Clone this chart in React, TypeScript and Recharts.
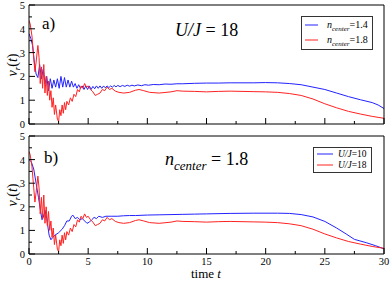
import { LineChart, Line, XAxis, YAxis } from "recharts";

// time grid + velocity readings, panel a) U/J = 18
const blueA: [number, number][] = [
  [0, 3.8], [0.15, 3.6], [0.3, 3.3], [0.45, 2.6], [0.6, 2.1], [0.75, 1.95], [0.9, 2.5], [1.05, 1.9],
  [1.2, 2.3], [1.35, 1.7], [1.5, 2.0], [1.65, 1.4], [1.8, 1.9], [1.95, 1.5], [2.1, 1.85], [2.25, 1.55],
  [2.4, 1.9], [2.55, 1.5], [2.7, 2.0], [2.85, 1.55], [3.0, 1.95], [3.15, 1.55], [3.3, 1.85], [3.45, 1.55],
  [3.6, 1.8], [3.75, 1.55], [3.9, 1.7], [4.05, 1.5], [4.2, 1.65], [4.35, 1.5], [4.5, 1.6], [4.65, 1.45],
  [4.8, 1.6], [4.95, 1.45], [5.1, 1.6], [5.25, 1.45], [5.4, 1.58], [5.55, 1.48], [5.7, 1.6], [5.85, 1.5],
  [6.0, 1.6], [6.15, 1.5], [6.3, 1.6], [6.45, 1.52], [6.6, 1.6], [6.75, 1.53], [6.9, 1.6], [7.05, 1.55],
  [7.2, 1.62], [7.35, 1.56], [7.5, 1.62], [7.7, 1.57], [7.9, 1.62], [8.1, 1.58], [8.3, 1.63], [8.5, 1.59],
  [8.7, 1.63], [8.9, 1.6], [9.2, 1.64], [9.5, 1.61], [9.8, 1.65], [10.1, 1.63], [10.5, 1.66], [11, 1.65],
  [11.5, 1.68], [12, 1.67], [12.5, 1.69], [13, 1.69], [14, 1.71], [15, 1.72], [16, 1.72], [17, 1.73],
  [18, 1.73], [19, 1.73], [20, 1.74], [21, 1.73], [22, 1.7], [23, 1.65], [24, 1.55], [25, 1.45],
  [26, 1.3], [27, 1.15], [28, 1.02], [29, 0.9], [29.5, 0.8], [30, 0.65],
];

// n_center = 1.8, U/J = 18 (same curve in both panels)
const red18: [number, number][] = [
  [0, 4.35], [0.1, 4.2], [0.25, 3.7], [0.4, 2.8], [0.5, 2.2], [0.6, 2.6], [0.75, 3.3], [0.85, 2.8],
  [0.95, 1.7], [1.05, 2.4], [1.15, 1.5], [1.25, 2.5], [1.35, 1.3], [1.45, 2.0], [1.55, 1.2], [1.65, 1.8],
  [1.75, 1.0], [1.85, 1.4], [1.95, 0.7], [2.05, 1.1], [2.15, 0.4], [2.25, 0.8], [2.4, 0.2], [2.5, 0.1],
  [2.6, 0.6], [2.7, 0.35], [2.8, 0.8], [2.9, 0.45], [3.0, 0.9], [3.1, 0.6], [3.2, 0.95], [3.35, 0.8],
  [3.5, 1.1], [3.65, 0.95], [3.8, 1.25], [3.95, 1.15], [4.1, 1.45], [4.25, 1.35], [4.4, 1.6], [4.55, 1.5],
  [4.7, 1.7], [4.85, 1.55], [5.0, 1.6], [5.2, 1.45], [5.4, 1.35], [5.6, 1.2], [5.8, 1.25], [6.0, 1.3],
  [6.2, 1.45], [6.4, 1.4], [6.6, 1.55], [6.8, 1.45], [7.0, 1.5], [7.3, 1.38], [7.6, 1.33], [8.0, 1.3],
  [8.5, 1.33], [9.0, 1.42], [9.3, 1.45], [9.7, 1.4], [10.2, 1.33], [11, 1.3], [12, 1.35], [12.5, 1.4],
  [13, 1.38], [14, 1.37], [15, 1.35], [16, 1.37], [17, 1.38], [18, 1.37], [19, 1.36], [20, 1.35],
  [21, 1.33], [22, 1.28], [23, 1.2], [24, 1.05], [25, 0.85], [26, 0.68], [27, 0.53], [28, 0.42],
  [29, 0.32], [30, 0.24],
];

// panel b) U/J = 10
const blueB: [number, number][] = [
  [0, 4.0], [0.2, 3.9], [0.4, 3.6], [0.6, 3.0], [0.8, 2.4], [1.0, 1.75], [1.1, 1.45], [1.2, 1.55],
  [1.35, 1.85], [1.5, 1.5], [1.7, 0.8], [1.85, 0.6], [2.0, 0.7], [2.2, 0.8], [2.5, 0.9], [2.8, 1.05],
  [3.0, 1.2], [3.2, 1.4], [3.4, 1.4], [3.6, 1.6], [3.7, 1.65], [3.9, 1.5], [4.1, 1.55], [4.3, 1.45],
  [4.5, 1.5], [4.7, 1.4], [4.9, 1.3], [5.1, 1.35], [5.3, 1.45], [5.5, 1.55], [5.7, 1.5], [5.9, 1.6],
  [6.2, 1.55], [6.5, 1.6], [7, 1.6], [7.5, 1.6], [8, 1.62], [8.5, 1.63], [9, 1.63], [10, 1.65],
  [11, 1.66], [12, 1.67], [13, 1.68], [14, 1.69], [15, 1.7], [17, 1.72], [19, 1.73], [21, 1.73],
  [22, 1.72], [23, 1.67], [24, 1.57], [25, 1.38], [26, 1.1], [26.8, 0.85], [27.5, 0.62], [28.5, 0.48],
  [29.3, 0.35], [30, 0.22],
];

const xTicks = [0, 2.5, 5, 7.5, 10, 12.5, 15, 17.5, 20, 22.5, 25, 27.5, 30];
const yTicks = [0, 0.5, 1, 1.5, 2, 2.5, 3, 3.5, 4, 4.5, 5];

const toRows = (pts: [number, number][]) => pts.map(([t, v]) => ({ t, v }));

const FONT = "'Liberation Serif', 'DejaVu Serif', serif";
const BLUE = "#2222ff";
const RED = "#ff2222";

// inward ticks, long for major values, short for minor; label only on major
function makeTick(side: "bottom" | "top" | "left" | "right", label: boolean, majorFn: (v: number) => boolean) {
  return (p: any) => {
    const v = p.payload.value;
    const major = majorFn(v);
    const len = major ? 6 : 3;
    const { x, y } = p;
    let l;
    if (side === "bottom") l = <line x1={x} x2={x} y1={y} y2={y - len} stroke="#000" />;
    else if (side === "top") l = <line x1={x} x2={x} y1={y} y2={y + len} stroke="#000" />;
    else if (side === "left") l = <line x1={x} x2={x + len} y1={y} y2={y} stroke="#000" />;
    else l = <line x1={x} x2={x - len} y1={y} y2={y} stroke="#000" />;
    let t = null;
    if (label && major) {
      if (side === "bottom")
        t = <text x={x} y={y + 11} textAnchor="middle" fontSize={10.5} fontFamily={FONT} fill="#000">{v}</text>;
      else if (side === "left")
        t = <text x={x - 4} y={y + 4} textAnchor="end" fontSize={10.5} fontFamily={FONT} fill="#000">{v}</text>;
    }
    return <g>{l}{t}</g>;
  };
}

const xMajorFn = (v: number) => v % 5 === 0;
const yMajorFn = (v: number) => Number.isInteger(v);

function frameAxes(showX: boolean) {
  const line = { stroke: "#000", strokeWidth: 1 };
  return [
    <XAxis key="xb" xAxisId="x" type="number" dataKey="t" domain={[0, 30]} ticks={xTicks} interval={0}
      height={1} tickSize={0} tickMargin={0} axisLine={line} tickLine={false}
      tick={makeTick("bottom", showX, xMajorFn)} allowDataOverflow />,
    <XAxis key="xt" xAxisId="xt" orientation="top" type="number" dataKey="t" domain={[0, 30]} ticks={xTicks}
      interval={0} height={1} tickSize={0} tickMargin={0} axisLine={line} tickLine={false}
      tick={makeTick("top", false, xMajorFn)} />,
    <YAxis key="yl" yAxisId="y" type="number" domain={[0, 5]} ticks={yTicks} interval={0} width={1}
      tickSize={0} tickMargin={0} axisLine={line} tickLine={false} tick={makeTick("left", true, yMajorFn)}
      allowDataOverflow />,
    <YAxis key="yr" yAxisId="yr" orientation="right" type="number" domain={[0, 5]} ticks={yTicks} interval={0}
      width={1} tickSize={0} tickMargin={0} axisLine={line} tickLine={false}
      tick={makeTick("right", false, yMajorFn)} />,
  ];
}

function Panel({ blue, red, showX, height, margin }: {
  blue: [number, number][]; red: [number, number][]; showX: boolean; height: number;
  margin: { top: number; right: number; bottom: number; left: number };
}) {
  return (
    <LineChart width={390} height={height} margin={margin}>
      {frameAxes(showX)}
      <Line xAxisId="x" yAxisId="y" data={toRows(blue)} dataKey="v" type="linear" stroke={BLUE}
        strokeWidth={1} dot={false} isAnimationActive={false} />
      <Line xAxisId="x" yAxisId="y" data={toRows(red)} dataKey="v" type="linear" stroke={RED}
        strokeWidth={1} dot={false} isAnimationActive={false} />
    </LineChart>
  );
}

export default function App() {
  return (
    <div style={{ position: "absolute", left: 0, top: 0, width: 390, height: 281, background: "#fff", fontFamily: FONT }}>
      <div style={{ position: "absolute", left: 0, top: 0 }}>
        <Panel blue={blueA} red={red18} showX={false} height={130}
          margin={{ top: 4, right: 5, bottom: 5, left: 28 }} />
      </div>
      <div style={{ position: "absolute", left: 0, top: 130 }}>
        <Panel blue={blueB} red={red18} showX={true} height={151}
          margin={{ top: 5, right: 5, bottom: 26, left: 28 }} />
      </div>
      <svg width={390} height={281} style={{ position: "absolute", left: 0, top: 0, pointerEvents: "none" }}
        fontFamily={FONT}>
        {/* y labels */}
        <text transform="translate(17,65) rotate(-90)" textAnchor="middle" fontSize={14}>
          <tspan fontStyle="italic">v</tspan><tspan fontStyle="italic" fontSize={9} dy={3}>r</tspan>
          <tspan dy={-3}>(</tspan><tspan fontStyle="italic">t</tspan><tspan>)</tspan>
        </text>
        <text transform="translate(17,195) rotate(-90)" textAnchor="middle" fontSize={14}>
          <tspan fontStyle="italic">v</tspan><tspan fontStyle="italic" fontSize={9} dy={3}>r</tspan>
          <tspan dy={-3}>(</tspan><tspan fontStyle="italic">t</tspan><tspan>)</tspan>
        </text>
        <text x={206} y={278} textAnchor="middle" fontSize={13}>
          time <tspan fontStyle="italic">t</tspan>
        </text>

        {/* panel titles */}
        <text x={42} y={29} fontSize={17}>a)</text>
        <text x={175} y={36} fontSize={18}>
          <tspan fontStyle="italic">U/J</tspan> = 18
        </text>
        <text x={44} y={163} fontSize={17}>b)</text>
        <text x={165} y={165} fontSize={18}>
          <tspan fontStyle="italic">n</tspan>
          <tspan fontStyle="italic" fontSize={13} dy={5}>center</tspan>
          <tspan dy={-5}> = 1.8</tspan>
        </text>

        {/* legend a */}
        <rect x={301.5} y={16.5} width={71} height={33} fill="#fff" stroke="#333" strokeWidth={1} />
        <line x1={305} x2={318} y1={25} y2={25} stroke={BLUE} />
        <line x1={305} x2={318} y1={40} y2={40} stroke={RED} />
        <text x={327} y={28} fontSize={10}>
          <tspan fontStyle="italic">n</tspan><tspan fontStyle="italic" fontSize={7} dy={3}>center</tspan>
          <tspan dy={-3}>=1.4</tspan>
        </text>
        <text x={327} y={43} fontSize={10}>
          <tspan fontStyle="italic">n</tspan><tspan fontStyle="italic" fontSize={7} dy={3}>center</tspan>
          <tspan dy={-3}>=1.8</tspan>
        </text>

        {/* legend b */}
        <rect x={313.5} y={147.5} width={58} height={25} fill="#fff" stroke="#333" strokeWidth={1} />
        <line x1={317} x2={333} y1={154} y2={154} stroke={BLUE} />
        <line x1={317} x2={333} y1={165} y2={165} stroke={RED} />
        <text x={338} y={157} fontSize={9.5}>
          <tspan fontStyle="italic">U/J</tspan>=10
        </text>
        <text x={338} y={168} fontSize={9.5}>
          <tspan fontStyle="italic">U/J</tspan>=18
        </text>
      </svg>
    </div>
  );
}
